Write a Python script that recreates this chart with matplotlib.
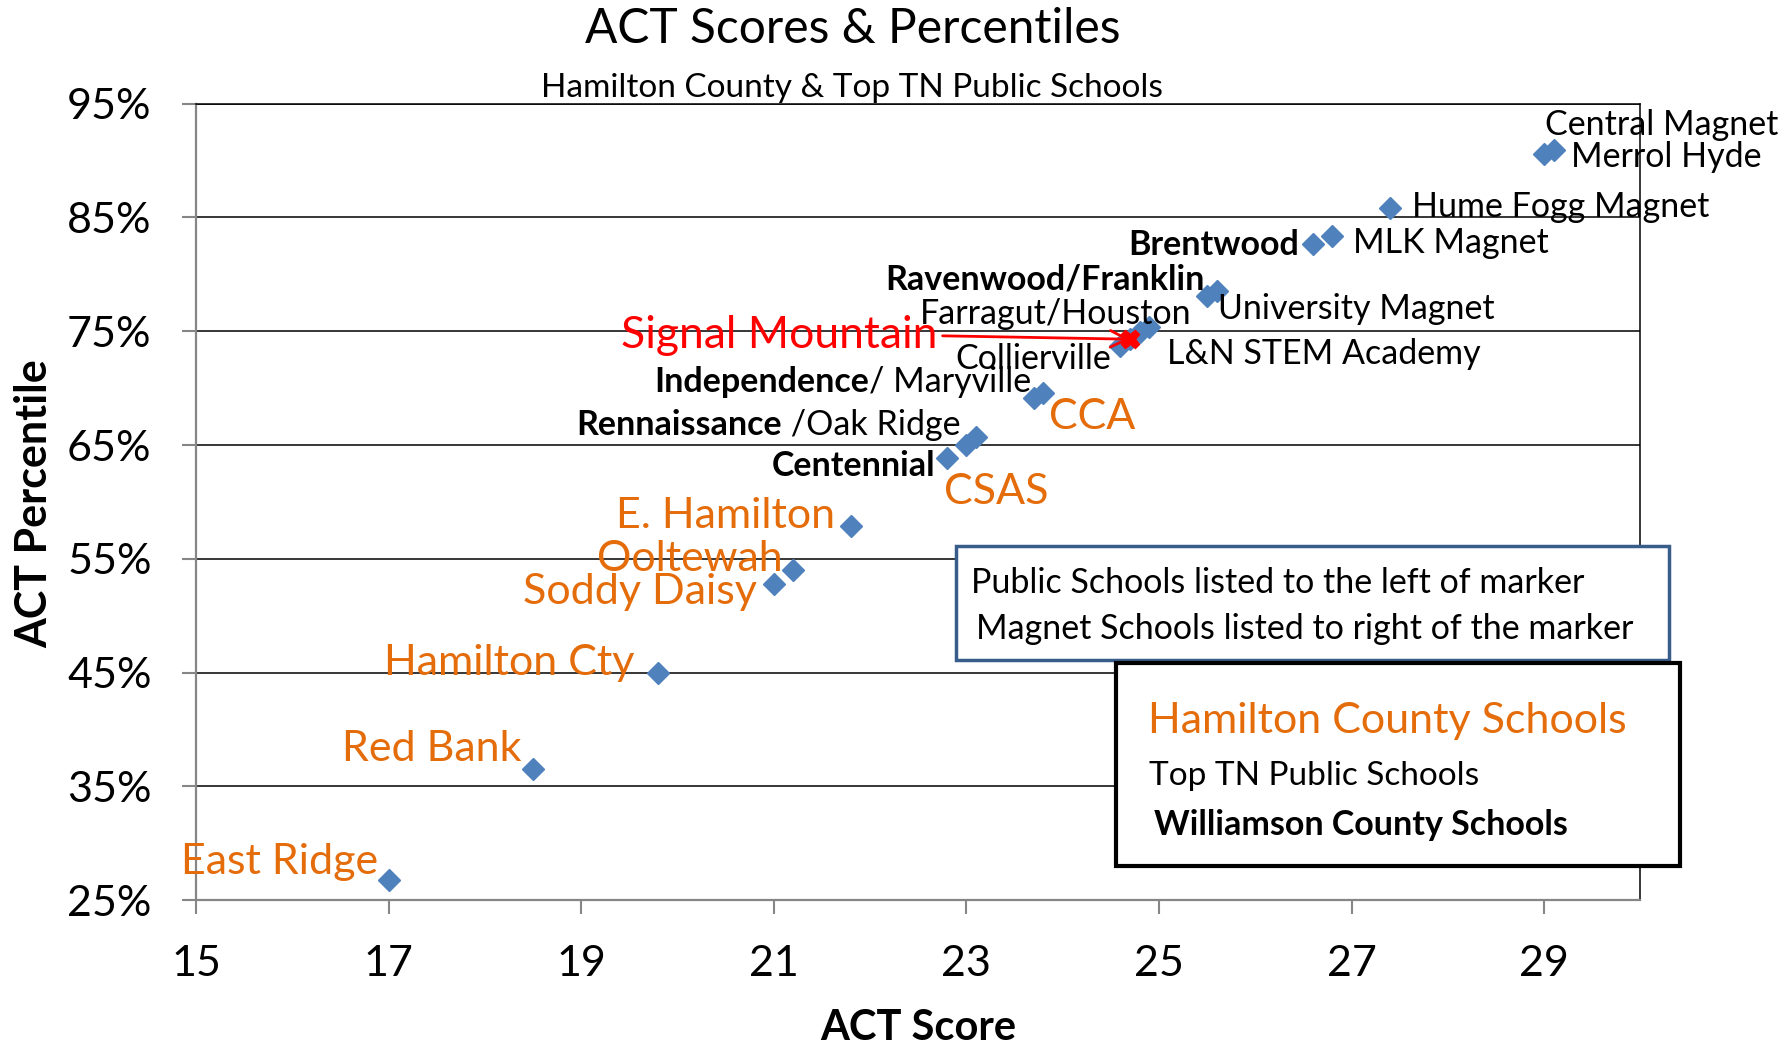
import matplotlib.pyplot as plt
from matplotlib.patches import Rectangle

plt.rcParams['font.family'] = ['Lato', 'DejaVu Sans']

# ACT data
schools = ["East Ridge", "Red Bank", "Hamilton Cty", "Soddy Daisy", "Ooltewah",
           "E. Hamilton", "Centennial", "CSAS", "Rennaissance /Oak Ridge",
           "Independence/ Maryville", "CCA", "Collierville", "Signal Mountain",
           "Farragut/Houston", "L&N STEM Academy", "Ravenwood/Franklin",
           "University Magnet", "Brentwood", "MLK Magnet", "Hume Fogg Magnet",
           "Central Magnet", "Merrol Hyde"]
act_score = [17.0, 18.5, 19.8, 21.0, 21.2, 21.8, 22.8, 23.0, 23.1, 23.7, 23.8,
             24.6, 24.7, 24.8, 24.9, 25.5, 25.6, 26.6, 26.8, 27.4, 29.0, 29.1]
act_pct = [26.8, 36.5, 45.0, 52.8, 54.0, 57.9, 63.9, 65.0, 65.7, 69.1, 69.6,
           73.7, 74.3, 74.9, 75.4, 78.1, 78.5, 82.7, 83.4, 85.8, 90.6, 90.9]
group = ['ham', 'ham', 'ham', 'ham', 'ham', 'ham', 'wil', 'ham', 'mix', 'mix',
         'ham', 'top', 'sig', 'top', 'top', 'wil', 'top', 'wil', 'top', 'top',
         'top', 'top']

x_ticks = [15, 17, 19, 21, 23, 25, 27, 29]
y_ticks = [25, 35, 45, 55, 65, 75, 85, 95]

ORANGE = '#e46c0a'
BLUE = '#4f81bd'
GRAY = '#868686'
LBL = 24.5   # black labels
HAM = 31     # orange labels

# label offsets from the marker, in points: (dx, dy, ha)
offsets = {
    "East Ridge": (-7.5, 12.5, 'right'),
    "Red Bank": (-8, 14.5, 'right'),
    "Hamilton Cty": (-17, 7, 'right'),
    "Soddy Daisy": (-12.5, -6, 'right'),
    "Ooltewah": (-7.5, 8, 'right'),
    "E. Hamilton": (-11, 7, 'right'),
    "Centennial": (-8.5, -6, 'right'),
    "CSAS": (-16, -33.5, 'left'),
    "Rennaissance /Oak Ridge": (-11, 8.5, 'right'),
    "Independence/ Maryville": (-2, 11.5, 'right'),
    "CCA": (4, -17.5, 'left'),
    "Collierville": (-7, -9.5, 'right'),
    "Signal Mountain": (-139, 2.5, 'right'),
    "Farragut/Houston": (37, 13.5, 'right'),
    "L&N STEM Academy": (13, -19.5, 'left'),
    "Ravenwood/Franklin": (-2, 11.5, 'right'),
    "University Magnet": (1, -13, 'left'),
    "Brentwood": (-10, -1, 'right'),
    "MLK Magnet": (15, -5, 'left'),
    "Hume Fogg Magnet": (16, 1, 'left'),
    "Central Magnet": (0.5, 20.5, 'left'),
    "Merrol Hyde": (12.5, -5, 'left'),
}
mixed = {
    "Rennaissance /Oak Ridge": ("Rennaissance", " /Oak Ridge"),
    "Independence/ Maryville": ("Independence", "/ Maryville"),
}

fig = plt.figure(figsize=(17.87, 10.46), dpi=100)
ax = fig.add_axes([0.1097, 0.1394, 0.8083, 0.7615])

ax.plot(act_score, act_pct, 'D', color=BLUE, ms=11, ls='none', zorder=3)
i_sig = group.index('sig')
ax.plot(act_score[i_sig], act_pct[i_sig], 'X', color='red', ms=13, zorder=4)

ax.set_xlim(15, 30)
ax.set_ylim(25, 95)
ax.set_xticks(x_ticks)
ax.set_yticks(y_ticks)
ax.set_yticklabels([f'{v}%' for v in y_ticks])
ax.yaxis.grid(True, color='black', lw=1.1)
ax.set_axisbelow(True)
for s in ['top', 'right']:
    ax.spines[s].set_color('black')
    ax.spines[s].set_linewidth(1.1)
for s in ['left', 'bottom']:
    ax.spines[s].set_color(GRAY)
    ax.spines[s].set_linewidth(1.6)
ax.tick_params(length=10, width=1.5, color=GRAY, labelsize=31)
ax.tick_params(axis='y', pad=22)
ax.tick_params(axis='x', pad=22)

for name, x, y, g in zip(schools, act_score, act_pct, group):
    dx, dy, ha = offsets[name]
    if g == 'mix':
        bold, reg = mixed[name]
        t = ax.annotate(reg, (x, y), xytext=(dx, dy), textcoords='offset points',
                        ha='right', va='center', fontsize=LBL)
        ax.annotate(bold, xy=(0, 0), xycoords=t, ha='right', va='bottom',
                    fontsize=LBL, fontweight='bold')
    elif g == 'sig':
        ax.annotate(name, (x, y), xytext=(dx, dy), textcoords='offset points',
                    ha=ha, va='center', fontsize=32, color='red',
                    arrowprops=dict(arrowstyle='->', color='red', lw=2,
                                    mutation_scale=30, relpos=(1, 0.5),
                                    shrinkA=2, shrinkB=0))
    else:
        kw = dict(fontsize=LBL, color='black')
        if g == 'ham':
            kw = dict(fontsize=HAM, color=ORANGE)
        elif g == 'wil':
            kw['fontweight'] = 'bold'
        ax.annotate(name, (x, y), xytext=(dx, dy), textcoords='offset points',
                    ha=ha, va='center', **kw)

fig.text(0.477, 0.972, 'ACT Scores & Percentiles', ha='center', va='center', fontsize=34.5)
fig.text(0.477, 0.916, 'Hamilton County & Top TN Public Schools', ha='center',
         va='center', fontsize=24)
fig.text(0.019, 0.5185, 'ACT Percentile', rotation=90, ha='center', va='center',
         fontsize=31, fontweight='bold')
fig.text(0.514, 0.0174, 'ACT Score', ha='center', va='center', fontsize=30,
         fontweight='bold')

# note boxes
fig.add_artist(Rectangle((0.535, 0.3693), 0.399, 0.1089, transform=fig.transFigure,
                         facecolor='white', edgecolor='#385d8a', lw=2.5, zorder=5))
fig.text(0.5434, 0.4424, 'Public Schools listed to the left of marker', va='center',
         fontsize=24.5, zorder=6)
fig.text(0.5459, 0.3989, 'Magnet Schools listed to right of the marker', va='center',
         fontsize=24.5, zorder=6)

fig.add_artist(Rectangle((0.6244, 0.1721), 0.3156, 0.1939, transform=fig.transFigure,
                         facecolor='white', edgecolor='black', lw=3, zorder=5))
fig.text(0.6422, 0.3106, 'Hamilton County Schools', va='center', fontsize=31,
         color=ORANGE, zorder=6)
fig.text(0.6429, 0.2583, 'Top TN Public Schools', va='center', fontsize=24, zorder=6)
fig.text(0.646, 0.2115, 'Williamson County Schools', va='center', fontsize=24.5,
         fontweight='bold', zorder=6)

fig.savefig('out.png', dpi=100)
